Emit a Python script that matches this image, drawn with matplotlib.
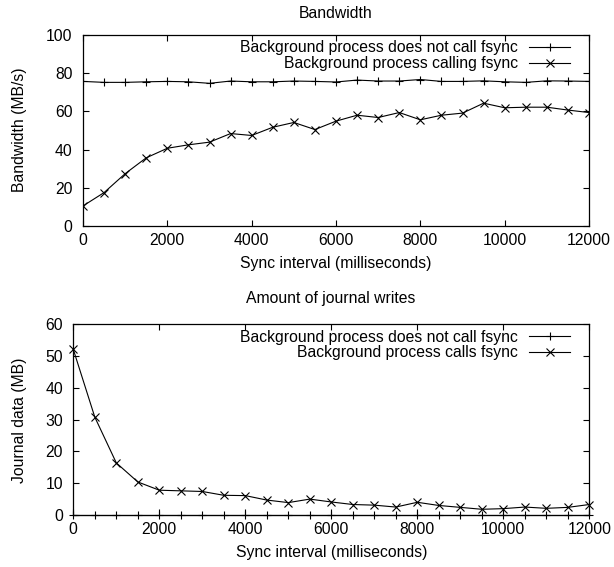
import matplotlib
matplotlib.use("Agg")
import matplotlib.pyplot as plt

plt.rcParams['font.family'] = ['Liberation Sans', 'DejaVu Sans']

interval = [0, 500, 1000, 1500, 2000, 2500, 3000, 3500, 4000, 4500, 5000, 5500, 6000,
            6500, 7000, 7500, 8000, 8500, 9000, 9500, 10000, 10500, 11000, 11500, 12000]

bw_nofsync = [75.7, 75.2, 75.2, 75.5, 75.7, 75.5, 74.7, 75.9, 75.5, 75.5, 75.9, 75.7, 75.4,
              76.4, 75.9, 75.9, 76.7, 75.7, 75.7, 76.0, 75.5, 75.2, 76.0, 75.9, 75.7]
bw_fsync = [10.5, 17.5, 27.4, 35.7, 40.7, 42.5, 43.9, 48.4, 47.4, 51.7, 54.2, 50.5, 54.9,
            58.0, 56.8, 59.4, 55.6, 58.0, 59.1, 64.3, 61.9, 62.2, 62.2, 60.7, 59.4]

jr_nofsync = [0] * 25
jr_fsync = [52.1, 30.8, 16.4, 10.4, 7.8, 7.6, 7.4, 6.2, 6.1, 4.7, 3.9, 5.0, 4.1,
            3.3, 3.1, 2.5, 4.0, 3.0, 2.4, 1.8, 2.0, 2.5, 2.1, 2.4, 3.3]

xticks = [0, 2000, 4000, 6000, 8000, 10000, 12000]
bw_yticks = [0, 20, 40, 60, 80, 100]
jr_yticks = [0, 10, 20, 30, 40, 50, 60]

W, H = 614, 567
fig = plt.figure(figsize=(W / 100, H / 100), dpi=100)
FS = 11.3


def px_axes(l, t, r, b):
    return fig.add_axes([l / W, (H - b) / H, (r - l) / W, (b - t) / H])


def style(ax):
    ax.tick_params(direction='in', top=True, right=True, length=4, width=0.8,
                   labelsize=FS, colors='black')
    ax.tick_params(axis='y', pad=7.5)
    ax.tick_params(axis='x', pad=5)
    for s in ax.spines.values():
        s.set_linewidth(0.9)


lkw = dict(color='black', lw=0.8, markersize=5.5, markeredgewidth=0.8)
legkw = dict(loc='upper right', frameon=False, markerfirst=False, fontsize=FS,
             borderaxespad=0, borderpad=0, labelspacing=0.05, handlelength=2.6,
             handletextpad=0.7)

ax1 = px_axes(83, 35, 589, 226)
ax1.plot(interval, bw_nofsync, marker='+', label='Background process does not call fsync', **lkw)
ax1.plot(interval, bw_fsync, marker='x', label='Background process calling fsync', **lkw)
ax1.set_xlim(0, 12000)
ax1.set_ylim(0, 100)
ax1.set_xticks(xticks)
ax1.set_yticks(bw_yticks)
style(ax1)
ax1.set_xlabel('Sync interval (milliseconds)', fontsize=FS, labelpad=6)
ax1.legend(bbox_to_anchor=(0.9625, 0.972), **legkw)

ax2 = px_axes(73.3, 324.3, 589.3, 515)
ax2.plot(interval, jr_nofsync, marker='+', label='Background process does not call fsync',
         clip_on=False, **lkw)
ax2.plot(interval, jr_fsync, marker='x', label='Background process calls fsync',
         clip_on=False, **lkw)
ax2.set_xlim(0, 12000)
ax2.set_ylim(0, 60)
ax2.set_xticks(xticks)
ax2.set_yticks(jr_yticks)
style(ax2)
ax2.set_xlabel('Sync interval (milliseconds)', fontsize=FS, labelpad=6)
ax2.legend(bbox_to_anchor=(0.9626, 0.972), **legkw)

fig.text(336 / W, 1 - 13 / H, 'Bandwidth', ha='center', va='center', fontsize=FS)
fig.text(331 / W, 1 - 299 / H, 'Amount of journal writes', ha='center', va='center', fontsize=FS)
fig.text(20 / W, 1 - 130 / H, 'Bandwidth (MB/s)', rotation=90, ha='center', va='center', fontsize=FS)
fig.text(20 / W, 1 - 420 / H, 'Journal data (MB)', rotation=90, ha='center', va='center', fontsize=FS)

fig.savefig('out.png', dpi=100)
